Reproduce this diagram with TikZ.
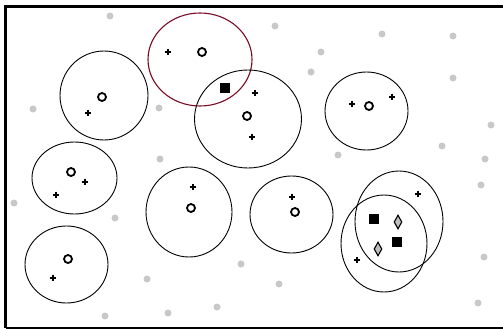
\documentclass[tikz,border=0pt]{standalone}
\usetikzlibrary{shapes.geometric}
\definecolor{dotgray}{RGB}{200,200,200}
\definecolor{darkred}{RGB}{120,10,35}
\definecolor{diagray}{RGB}{190,190,190}
\tikzset{
  gdot/.style={circle,fill=dotgray,draw=none,minimum size=7pt,inner sep=0pt},
  omark/.style={circle,draw=black,line width=1.8pt,minimum size=8pt,inner sep=0pt},
  pmark/.pic={\draw[line width=1.3pt] (-3.3,0)--(3.3,0) (0,-3.3)--(0,3.3);},
  sqmark/.style={rectangle,fill=black,minimum size=10.5pt,inner sep=0pt},
  dmark/.style={diamond,draw=black,fill=diagray,line width=1.1pt,minimum width=8pt,minimum height=14pt,inner sep=0pt,aspect=0.55},
  ring/.style={draw=black,line width=0.9pt},
  redring/.style={draw=darkred,line width=1.1pt},
  frame/.style={line width=2.6pt}
}
\begin{document}
\begin{tikzpicture}[x=1pt,y=-1pt]
\useasboundingbox (0,0) rectangle (503,329);
% frame
\coordinate (tl) at (5.5,6.5);
\coordinate (tr) at (503,6.5);
\coordinate (bl) at (5.5,327.5);
\coordinate (br) at (503,327.5);
\draw[frame] (tr) -- (tl) -- (bl);
\draw[line width=2pt] (bl) -- (br);
% gray dots
\foreach \i/\p in {1/{(110,16)},2/{(275,26)},3/{(382,34)},4/{(453,36)},5/{(321,52)},6/{(311,72)},7/{(453,78)},8/{(33,109)},9/{(159,108)},10/{(491,125)},11/{(442,146)},12/{(338,155)},13/{(485,159)},14/{(160,159)},15/{(14,203)},16/{(115,218)},17/{(481,185)},18/{(241,264)},19/{(147,279)},20/{(279,284)},21/{(484,257)},22/{(478,303)},23/{(217,307)},24/{(168,313)},25/{(105,316)}}
  \node[gdot] (g\i) at \p {};
% circle centers
\coordinate (c1) at (104,95.5);
\coordinate (c2) at (200,59.5);
\coordinate (c3) at (248,119);
\coordinate (c4) at (366.5,111);
\coordinate (c5) at (74.5,178);
\coordinate (c6) at (66.5,264.5);
\coordinate (c7) at (189,212);
\coordinate (c8) at (291.5,214.5);
\coordinate (c9) at (399,221.5);
\coordinate (c10) at (384,243.5);
\draw[ring] (c1) ellipse [x radius=44, y radius=44.5];
\draw[redring] (c2) ellipse [x radius=52, y radius=46.5];
\draw[ring] (c3) ellipse [x radius=53.5, y radius=49];
\draw[ring] (c4) ellipse [x radius=41.5, y radius=39];
\draw[ring] (c5) ellipse [x radius=42.5, y radius=36];
\draw[ring] (c6) ellipse [x radius=41.5, y radius=38.5];
\draw[ring] (c7) ellipse [x radius=43, y radius=45];
\draw[ring] (c8) ellipse [x radius=41.5, y radius=38.5];
\draw[ring] (c9) ellipse [x radius=44, y radius=50.5];
\draw[ring] (c10) ellipse [x radius=43, y radius=48.5];
% o markers
\node[omark] (o1) at (102,97) {};
\node[omark] (o2) at (202,52) {};
\node[omark] (o3) at (247,116) {};
\node[omark] (o4) at (369,106) {};
\node[omark] (o5) at (71,172) {};
\node[omark] (o6) at (68,259) {};
\node[omark] (o7) at (191,208) {};
\node[omark] (o8) at (295,212) {};
% plus markers
\foreach \i/\p in {1/{(88,113)},2/{(168,52)},3/{(255,93)},4/{(252,137)},5/{(352,104)},6/{(392,97)},7/{(85,182)},8/{(56,195)},9/{(53,278)},10/{(193,187)},11/{(292,197)},12/{(418,194)},13/{(357,260)}}
  \pic (p\i) at \p {pmark};
% squares and diamonds
\node[sqmark] (s1) at (225,88) {};
\node[sqmark] (s2) at (374,219) {};
\node[sqmark] (s3) at (397,242) {};
\node[dmark] (d1) at (398,222) {};
\node[dmark] (d2) at (378,249) {};
\end{tikzpicture}
\end{document}
